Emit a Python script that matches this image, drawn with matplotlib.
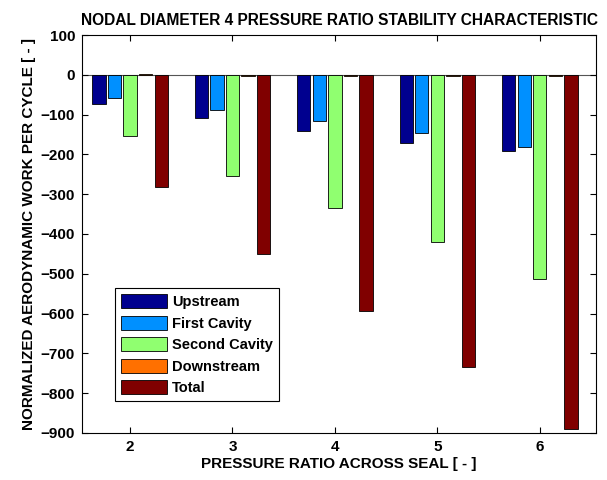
import numpy as np
import matplotlib
matplotlib.use("Agg")
import matplotlib.pyplot as plt

plt.rcParams['font.family'] = ['Liberation Sans', 'DejaVu Sans']
plt.rcParams['font.weight'] = 'bold'

# data
pressure_ratio = [2, 3, 4, 5, 6]
upstream = [-73, -108, -141, -171, -191]
first_cavity = [-58, -88, -116, -146, -181]
second_cavity = [-153, -254, -334, -420, -513]
downstream = [3, -2, -2, -2, -2]
total = [-281, -450, -593, -734, -889]

series = [upstream, first_cavity, second_cavity, downstream, total]
names = ["Upstream", "First Cavity", "Second Cavity", "Downstream", "Total"]
colors = ["#00008F", "#0090FF", "#90FF70", "#FF7000", "#800000"]

fig = plt.figure(figsize=(6.07, 4.8), dpi=100)
ax = fig.add_axes([0.135, 0.098, 0.847, 0.829])

x = np.array(pressure_ratio, dtype=float)
step = 0.152
width = 0.13
for i, vals in enumerate(series):
    ax.bar(x + (i - 2) * step, vals, width, color=colors[i],
           edgecolor="black", linewidth=0.6, label=names[i])

ax.axhline(0, color="#555555", linewidth=0.8, zorder=0.5)

ax.set_xlim(1.53, 6.55)
ax.set_ylim(-900, 100)
ax.set_xticks(pressure_ratio)
ax.set_yticks(np.arange(-900, 101, 100))
ax.tick_params(direction="in", top=True, right=True, labelsize=11, length=4, pad=5)
for lab in ax.get_xticklabels() + ax.get_yticklabels():
    lab.set_fontweight("bold")

ax.set_xlabel("PRESSURE RATIO ACROSS SEAL [ - ]", fontsize=11, fontweight="bold", labelpad=2)
ax.set_ylabel("NORMALIZED AERODYNAMIC WORK PER CYCLE [ - ]", fontsize=11, fontweight="bold", labelpad=3)
ax.set_title("NODAL DIAMETER 4 PRESSURE RATIO STABILITY CHARACTERISTIC", fontsize=11.2, fontweight="bold", pad=7)

leg = ax.legend(loc="lower left", bbox_to_anchor=(0.05, 0.062), fancybox=False,
                edgecolor="black", framealpha=1, fontsize=10.5, handlelength=3.2,
                handleheight=1.1, labelspacing=0.45, borderpad=0.4, handletextpad=0.3)
leg.get_frame().set_linewidth(0.8)

fig.savefig("out.png", dpi=100)
